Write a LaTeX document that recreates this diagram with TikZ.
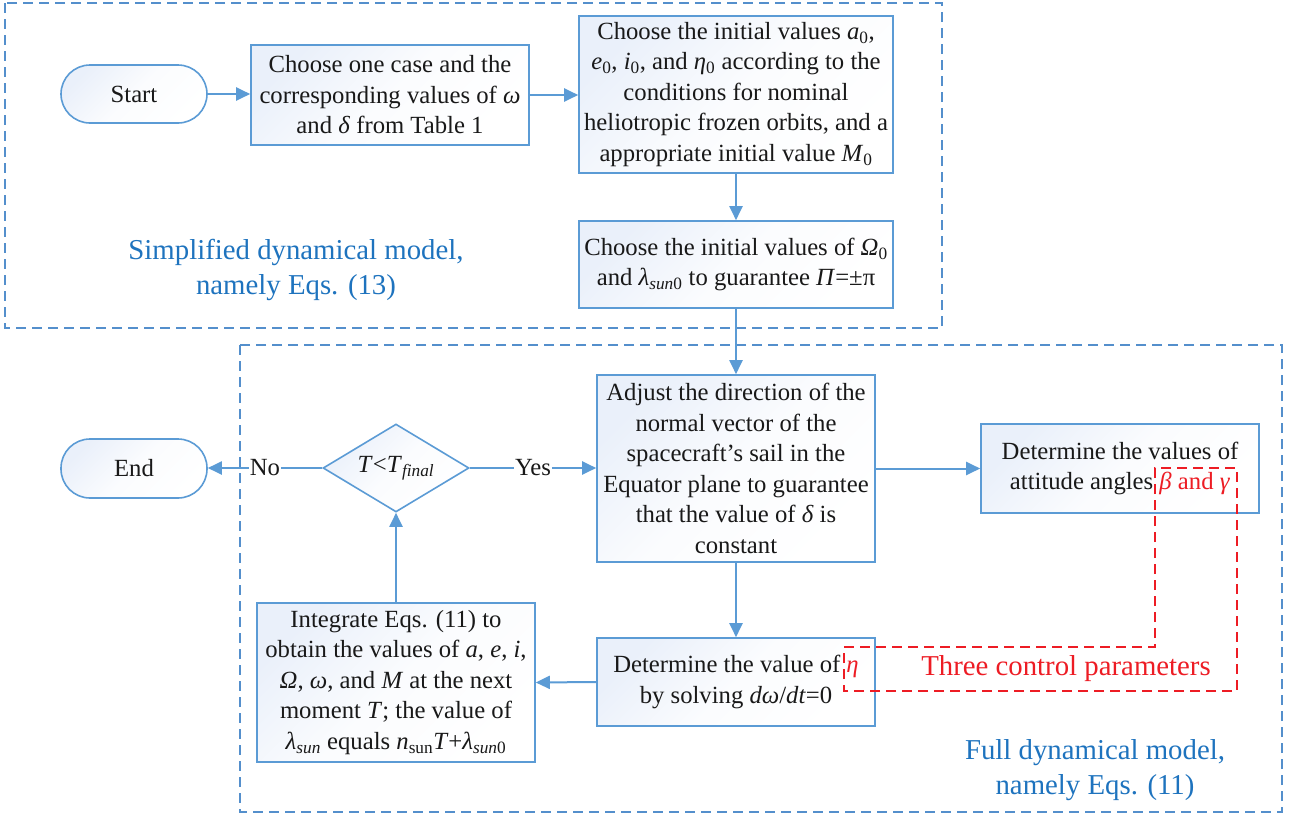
\documentclass[tikz,border=0pt]{standalone}
\usepackage{fontspec}
\setmainfont{Liberation Serif}
\usetikzlibrary{shapes.geometric,arrows.meta}
\definecolor{lineblue}{RGB}{91,155,213}
\definecolor{dashblue}{RGB}{84,143,204}
\definecolor{fillblue}{RGB}{234,240,250}
\definecolor{labelblue}{RGB}{30,115,190}
\definecolor{callred}{RGB}{237,28,36}
\newcommand\sbs[1]{\textsubscript{#1}}
\newcommand\mainfs{\fontsize{24.7}{30.5}\selectfont}
\newcommand\bigfs{\fontsize{28.8}{35}\selectfont}
\begin{document}
\begin{tikzpicture}[x=1pt,y=-1pt,
  box/.style={draw=lineblue, line width=1.6pt, top color=fillblue, bottom color=white, middle color=white!80!fillblue, shading angle=45,
    inner sep=0pt, align=center, font=\mainfs, text=black!90},
  term/.style={box, rounded corners=29pt},
  decide/.style={box, diamond, aspect=1.66},
  arr/.style={draw=lineblue, line width=2pt, -{Triangle[length=14pt,width=13pt]}},
  lab/.style={fill=white, inner sep=1pt, font=\mainfs, text=black!90},
  region/.style={draw=dashblue, line width=1.5pt, dash pattern=on 10pt off 6pt},
  regionlabel/.style={align=center, font=\bigfs, text=labelblue},
  callout/.style={draw=callred, line width=1.5pt, dash pattern=on 10pt off 6pt}
]
\useasboundingbox (0,0) rectangle (1291,817);

% regions
\draw[region] (5,3) rectangle (942,328);
\draw[region] (240,345) rectangle (1282,812);

% nodes
\node[term, minimum width=146pt, minimum height=58pt] (start) at (134,94) {Start};
\node[box, minimum width=278pt, minimum height=100pt] (b1) at (390,95)
  {Choose one case and the\\corresponding values of \textit{ω}\\and \textit{δ} from Table 1};
\node[box, minimum width=314pt, minimum height=157pt] (b2) at (736,94.5)
  {Choose the initial values \textit{a}\sbs{0},\\\textit{e}\sbs{0}, \textit{i}\sbs{0}, and \textit{η}\sbs{0} according to the\\conditions for nominal\\heliotropic frozen orbits, and a\\appropriate initial value \textit{M}\sbs{0}};
\node[box, minimum width=314pt, minimum height=87pt] (b3) at (736,264.5)
  {Choose the initial values of \textit{Ω}\sbs{0}\\and \textit{λ}\sbs{\textit{sun}0} to guarantee \textit{Π}=±π};
\node[box, minimum width=278pt, minimum height=187pt] (adj) at (736,468.5)
  {Adjust the direction of the\\normal vector of the\\spacecraft’s sail in the\\Equator plane to guarantee\\that the value of \textit{δ} is\\constant};
\node[box, minimum width=278pt, minimum height=89pt] (att) at (1120,468.5)
  {Determine the values of\\attitude angles {\color{callred}\textit{β} and \textit{γ}}};
\node[box, minimum width=278pt, minimum height=88pt] (eta) at (736,682)
  {Determine the value of {\color{callred}\textit{η}}\\by solving \textit{dω}/\textit{dt}=0};
\node[box, minimum width=278pt, minimum height=159pt] (int) at (396,682.5)
  {Integrate Eqs. (11) to\\obtain the values of \textit{a}, \textit{e}, \textit{i},\\\textit{Ω}, \textit{ω}, and \textit{M} at the next\\moment \textit{T}; the value of\\\textit{λ}\sbs{\textit{sun}} equals \textit{n}\sbs{sun}\textit{T}+\textit{λ}\sbs{\textit{sun}0}};
\node[decide, minimum width=146pt, minimum height=88pt] (dia) at (396,468)
  {\textit{T}<\textit{T}\sbs{\textit{final}}};
\node[term, minimum width=146pt, minimum height=59pt] (end) at (134,468.5) {End};

% region labels
\node[regionlabel] (lsimp) at (296,269.5) {Simplified dynamical model,\\namely Eqs. (13)};
\node[regionlabel] (lfull) at (1095,770.5) {Full dynamical model,\\namely Eqs. (11)};

% connectors
\draw[arr] (start.east) -- (b1.west |- start.east);
\draw[arr] (b1.east) -- (b2.west |- b1.east);
\draw[arr] (b2.south) -- (b3.north);
\draw[arr] (b3.south) -- (adj.north);
\draw[arr] (adj.east) -- (att.west);
\draw[arr] (adj.south) -- (eta.north);
\draw[arr] (eta.west) -- (int.east);
\draw[arr] (int.north) -- (dia.south);
\draw[arr] (dia.east) -- node[lab] {Yes} (adj.west |- dia.east);
\draw[arr] (dia.west) -- node[lab] {No} (end.east |- dia.west);

% red callout
\coordinate (r1) at (844,647);
\coordinate (r2) at (1155,647);
\coordinate (r3) at (1155,468);
\coordinate (r4) at (1237,468);
\coordinate (r5) at (1237,691);
\coordinate (r6) at (844,691);
\draw[callout] (r1) -- (r2) -- (r3) -- (r4) -- (r5) -- (r6) -- cycle;
\node[font=\bigfs, text=callred] (three) at (1066,669) {Three control parameters};
\end{tikzpicture}
\end{document}
